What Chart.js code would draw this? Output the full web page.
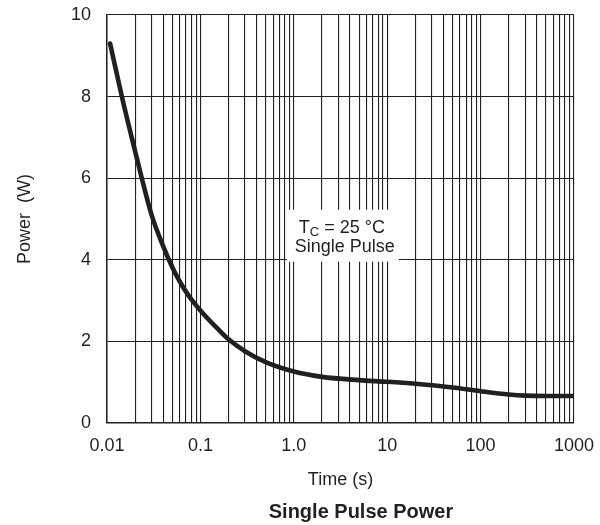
<!DOCTYPE html>
<html>
<head>
<meta charset="utf-8">
<script src="https://cdn.jsdelivr.net/npm/chart.js@4/dist/chart.umd.min.js"></script>
<style>
  html, body { margin: 0; padding: 0; background: #fff; }
  #wrap { width: 600px; height: 525px; }
</style>
</head>
<body>
<div id="wrap"><canvas id="pulse" width="600" height="525"></canvas></div>
<script>
// single pulse power curve
var times = [0.0108, 0.0145, 0.02, 0.0237, 0.03, 0.04, 0.05, 0.06, 0.07, 0.08, 0.1, 0.15, 0.2, 0.3, 0.5, 1.0, 2.0, 5, 10, 20, 50, 100, 200, 300, 500, 1000];
var power = [9.3, 7.98, 6.66, 5.98, 5.1, 4.33, 3.82, 3.47, 3.22, 3.03, 2.76, 2.33, 2.05, 1.76, 1.49, 1.26, 1.13, 1.05, 1.01, 0.96, 0.87, 0.78, 0.7, 0.67, 0.66, 0.66];

// axes
var decades = [0.01, 0.1, 1, 10, 100];
var steps = [1, 2, 3, 4, 5, 6, 7, 8, 9];
var xLabelValues = [0.01, 0.1, 1, 10, 100, 1000];
var xTickLabels = ['0.01', '0.1', '1.0', '10', '100', '1000'];
var yTicks = [0, 2, 4, 6, 8, 10];

var xGrid = [];
decades.forEach(function(d) {
    steps.forEach(function(m) { xGrid.push(+(d * m).toPrecision(3)); });
});
xGrid.push(1000);

var ink = '#231f20';
var fontName = '"Liberation Sans", Arial, Helvetica, sans-serif';

var notePlugin = {
    id: 'note',
    beforeDatasetsDraw: function(chart) {
        var ctx = chart.ctx;
        var xs = chart.scales.x, ys = chart.scales.y;
        var cx = xs.getPixelForValue(3.35);
        var cy = ys.getPixelForValue(4.59);
        ctx.save();
        ctx.fillStyle = '#fff';
        ctx.fillRect(cx - 56, cy - 26, 112, 52);
        ctx.fillStyle = ink;
        ctx.textBaseline = 'alphabetic';
        ctx.textAlign = 'left';
        // T with subscript C
        ctx.font = '18px ' + fontName;
        var wT = ctx.measureText('T').width;
        var rest = ' = 25 \u00B0C';
        var wR = ctx.measureText(rest).width;
        ctx.font = '13px ' + fontName;
        var wC = ctx.measureText('C').width;
        var x0 = cx - 1 - (wT + wC + wR) / 2;
        var b1 = cy - 2.5;
        ctx.font = '18px ' + fontName;
        ctx.fillText('T', x0, b1);
        ctx.font = '13px ' + fontName;
        ctx.fillText('C', x0 + wT, b1 + 3);
        ctx.font = '18px ' + fontName;
        ctx.fillText(rest, x0 + wT + wC, b1);
        ctx.textAlign = 'center';
        ctx.fillText('Single Pulse', cx + 2, cy + 16);
        ctx.restore();
    },
    afterDraw: function(chart) {
        var ctx = chart.ctx;
        ctx.save();
        ctx.fillStyle = ink;
        ctx.font = 'bold 20px ' + fontName;
        ctx.textAlign = 'center';
        ctx.textBaseline = 'alphabetic';
        ctx.fillText('Single Pulse Power', 361, 518);
        ctx.restore();
    }
};

var ctx = document.getElementById('pulse').getContext('2d');
new Chart(ctx, {
    type: 'line',
    data: {
        datasets: [{
            data: times.map(function(t, i) { return { x: t, y: power[i] }; }),
            borderColor: ink,
            borderWidth: 4.6,
            pointRadius: 0,
            fill: false,
            cubicInterpolationMode: 'monotone',
            borderCapStyle: 'round'
        }]
    },
    options: {
        responsive: false,
        animation: false,
        events: [],
        layout: { padding: { top: 15, right: 26, bottom: 0, left: 0 } },
        plugins: {
            legend: { display: false },
            tooltip: { enabled: false },
            title: { display: false }
        },
        scales: {
            x: {
                type: 'logarithmic',
                min: 0.01,
                max: 1000,
                afterBuildTicks: function(scale) {
                    scale.ticks = xGrid.map(function(v) { return { value: v }; });
                },
                afterFit: function(scale) {
                    scale.height = 102;
                    scale.paddingLeft = 0;
                    scale.paddingRight = 0;
                },
                grid: { color: ink, lineWidth: 1.1, drawTicks: false },
                border: { color: ink, width: 1.5 },
                ticks: {
                    autoSkip: false,
                    maxRotation: 0,
                    minRotation: 0,
                    padding: 12,
                    color: ink,
                    font: { family: fontName, size: 18 },
                    callback: function(value) {
                        var i = xLabelValues.findIndex(function(v) { return Math.abs(v - value) / v < 1e-6; });
                        return i >= 0 ? xTickLabels[i] : '';
                    }
                },
                title: {
                    display: true,
                    text: 'Time (s)',
                    color: ink,
                    font: { family: fontName, size: 18, lineHeight: 1.2 },
                    padding: { top: 0, bottom: 34 }
                }
            },
            y: {
                min: 0,
                max: 10,
                afterBuildTicks: function(scale) {
                    scale.ticks = yTicks.map(function(v) { return { value: v }; });
                },
                afterFit: function(scale) {
                    scale.width = 107;
                    scale.paddingTop = 0;
                    scale.paddingBottom = 0;
                },
                grid: { color: ink, lineWidth: 1.1, drawTicks: false },
                border: { color: ink, width: 1.5 },
                ticks: {
                    padding: 16,
                    color: ink,
                    font: { family: fontName, size: 18 }
                },
                title: {
                    display: true,
                    text: 'Power  (W)',
                    color: ink,
                    font: { family: fontName, size: 18, lineHeight: 1.2 },
                    padding: { top: 14, bottom: 0 }
                }
            }
        }
    },
    plugins: [notePlugin]
});
</script>
</body>
</html>
